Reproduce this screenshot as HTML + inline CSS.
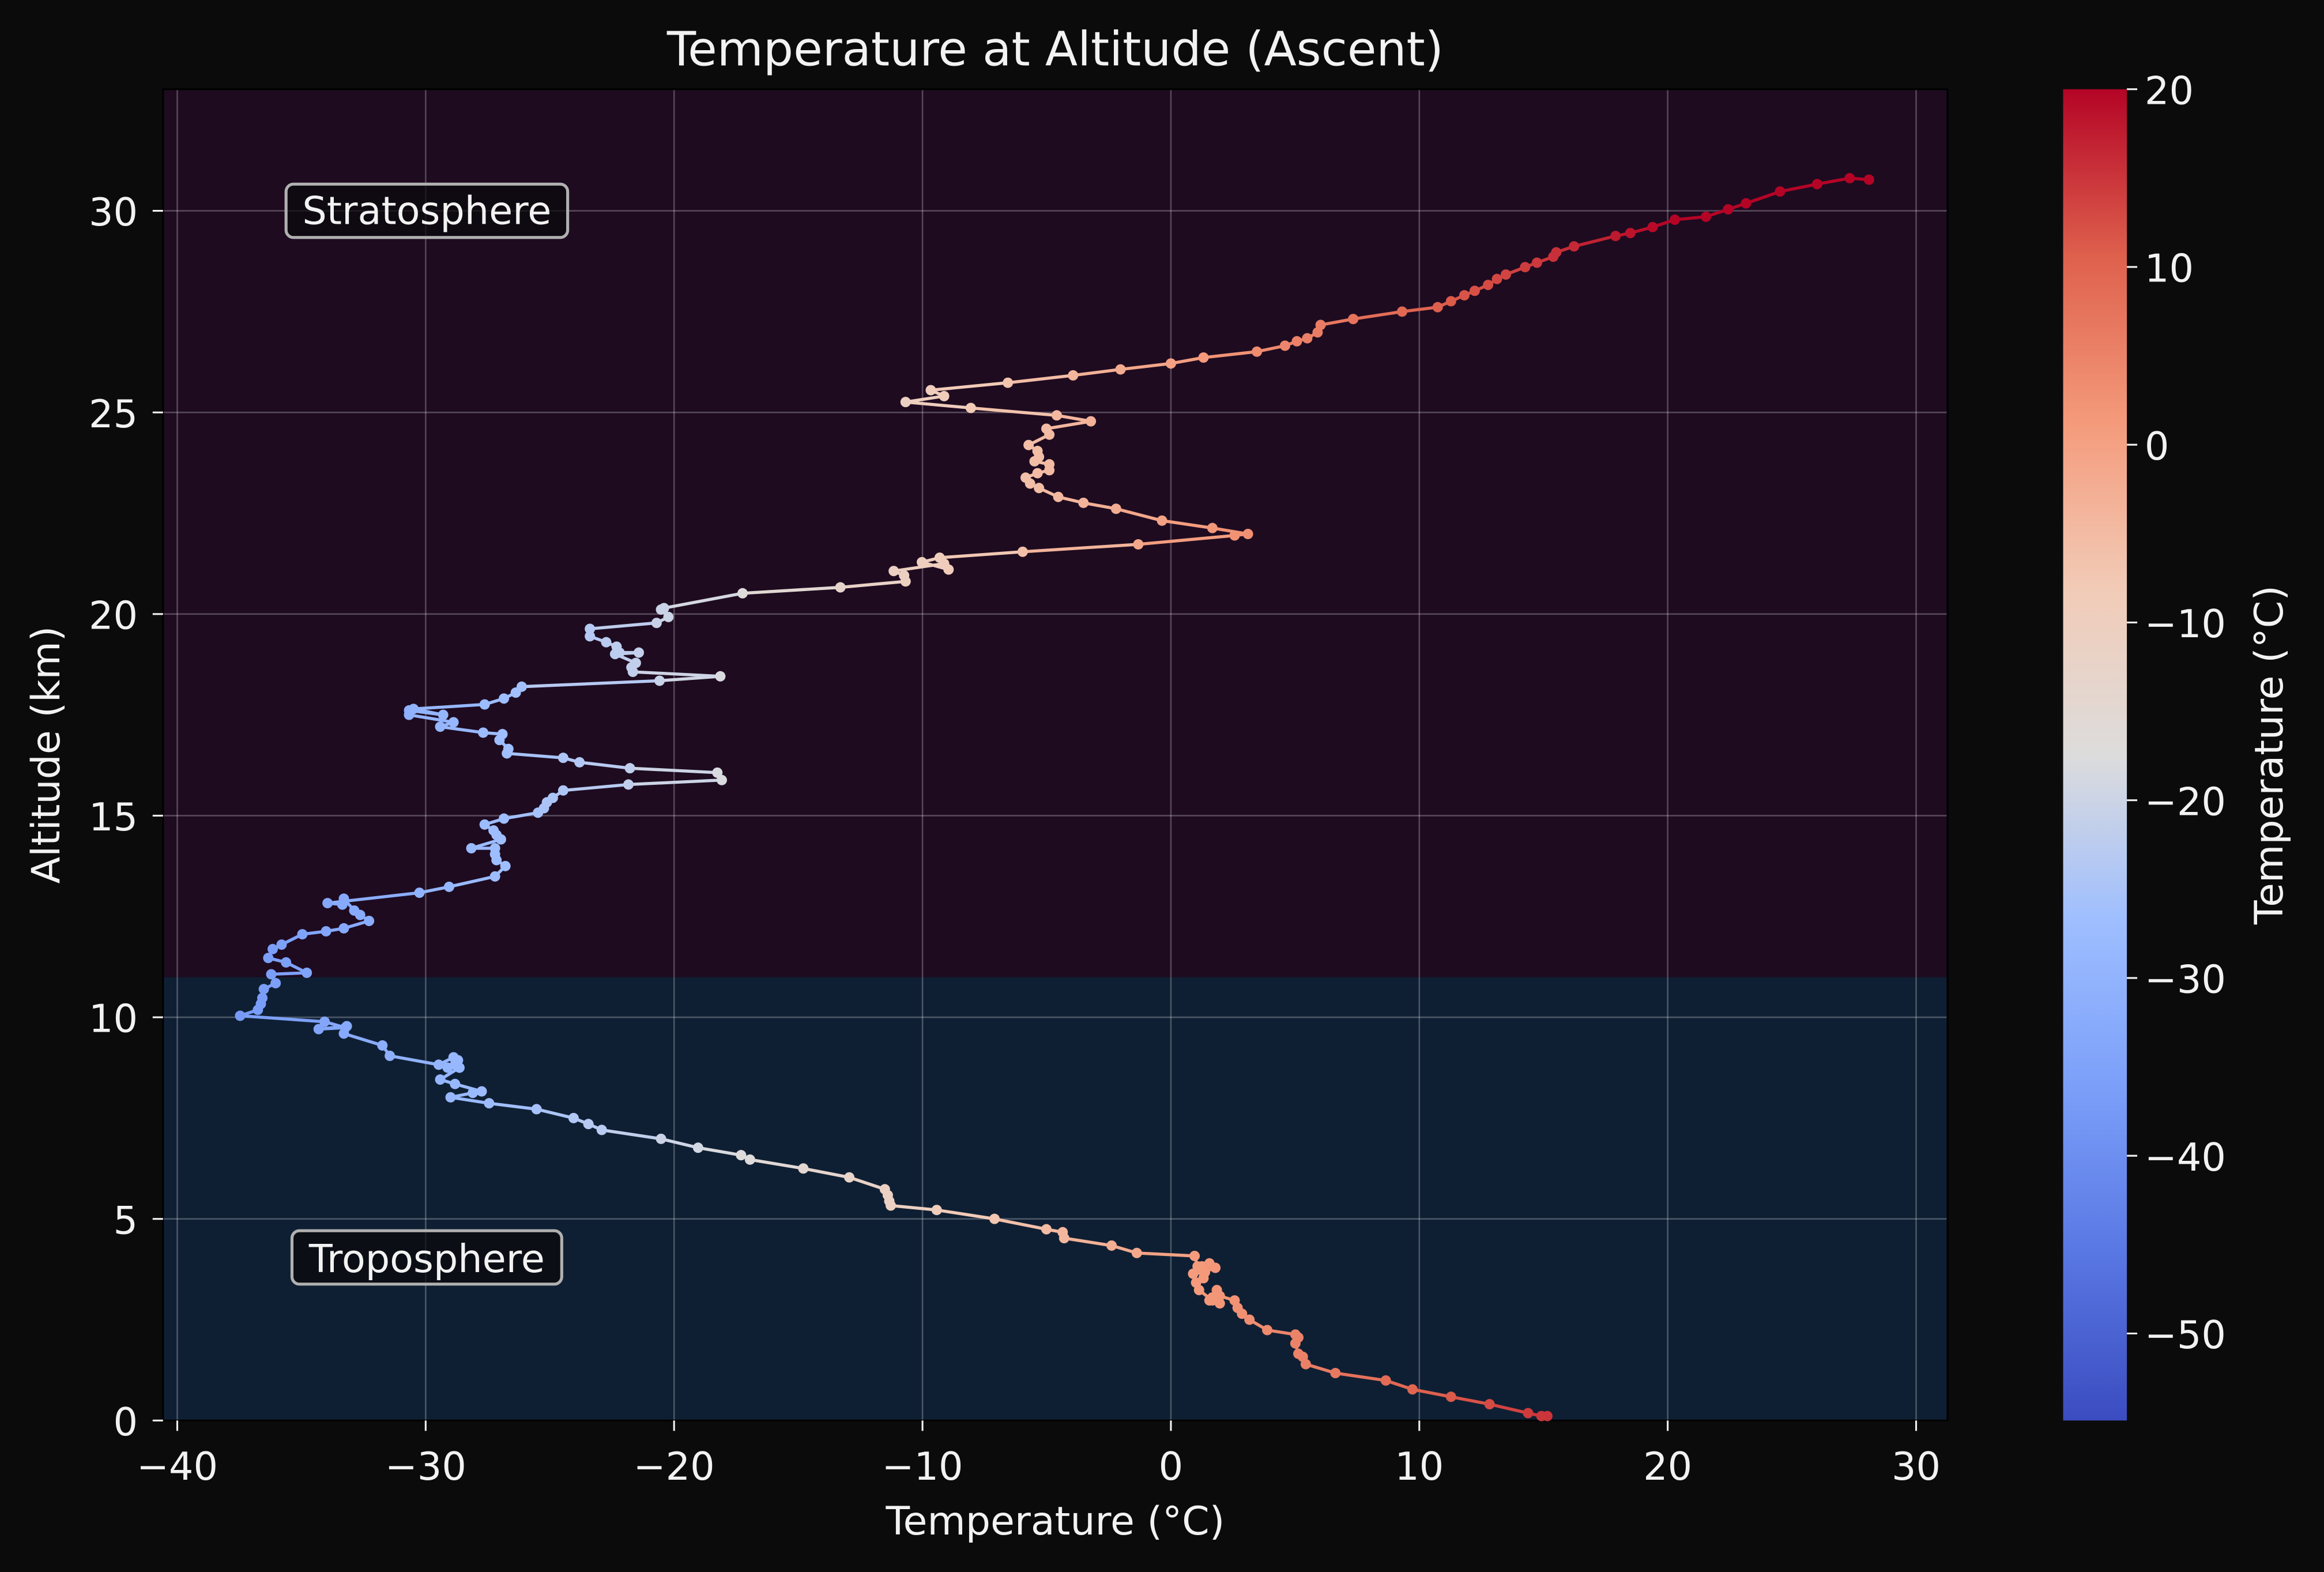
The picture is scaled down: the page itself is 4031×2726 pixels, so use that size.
<!DOCTYPE html>
<html><head><meta charset="utf-8"><style>
html,body{margin:0;padding:0;background:#0b0b0c;}
svg{display:block;}
text{font-family:"DejaVu Sans","Liberation Sans",sans-serif;fill:#f2f2f2;}
</style></head><body>
<svg id="s" width="4031" height="2726" viewBox="0 0 1568 1060" xmlns="http://www.w3.org/2000/svg">
<defs>
<linearGradient id="cb" x1="0" y1="1" x2="0" y2="0">
<stop offset="0" stop-color="#3b4cc0"/>
<stop offset="0.125" stop-color="#5977e3"/>
<stop offset="0.25" stop-color="#7b9ff9"/>
<stop offset="0.375" stop-color="#9ebeff"/>
<stop offset="0.5" stop-color="#dddcdc"/>
<stop offset="0.625" stop-color="#f2cbb7"/>
<stop offset="0.75" stop-color="#f49a7b"/>
<stop offset="0.875" stop-color="#de604d"/>
<stop offset="1" stop-color="#b40426"/>
</linearGradient>
</defs>
<rect x="0" y="0" width="1568" height="1060" fill="#0b0b0c"/>
<rect x="110" y="60" width="1204" height="599" fill="#1e0b20"/>
<rect x="110" y="659" width="1204" height="299" fill="#0f1f33"/>
<g id="grid" stroke="#ffffff" stroke-opacity="0.25" stroke-width="1"></g>
<rect x="110" y="60" width="1204" height="898" fill="none" stroke="#000" stroke-width="1.2"/>
<g id="ticks"></g>
<g id="series"></g>
<rect x="193" y="124" width="190" height="36" rx="5" fill="#0b0b0c" fill-opacity="0.75" stroke="#b0b0b0" stroke-width="2"/>
<text x="288" y="151" font-size="26" text-anchor="middle">Stratosphere</text>
<rect x="197" y="830" width="182" height="36" rx="5" fill="#0b0b0c" fill-opacity="0.75" stroke="#b0b0b0" stroke-width="2"/>
<text x="288" y="858" font-size="26" text-anchor="middle">Troposphere</text>
<text x="712" y="44" font-size="32" text-anchor="middle">Temperature at Altitude (Ascent)</text>
<text x="712" y="1035" font-size="26.5" text-anchor="middle">Temperature (°C)</text>
<text x="40" y="509" font-size="26.5" text-anchor="middle" transform="rotate(-90 40 509)">Altitude (km)</text>
<rect x="1392" y="60" width="43" height="898" fill="url(#cb)"/>
<text x="1540" y="509" font-size="26.5" text-anchor="middle" transform="rotate(-90 1540 509)">Temperature (°C)</text>
</svg>
<script>
var NS="http://www.w3.org/2000/svg";
function el(t,a,p){var e=document.createElementNS(NS,t);for(var k in a)e.setAttribute(k,a[k]);if(p)p.appendChild(e);return e;}
var grid=document.getElementById('grid'),ticks=document.getElementById('ticks'),ser=document.getElementById('series');
for(var v=-40;v<=30;v+=10){var x=790+v*16.76;
 el('line',{x1:x,y1:60,x2:x,y2:958},grid);
 el('line',{x1:x,y1:958,x2:x,y2:965,stroke:'#f2f2f2','stroke-width':1.2},ticks);
 var t=el('text',{x:x,y:998,'font-size':26,'text-anchor':'middle'},ticks);t.textContent=(v<0?'\u2212'+(-v):v);}
for(var v=0;v<=30;v+=5){var y=958-v*27.2;
 el('line',{x1:110,y1:y,x2:1314,y2:y},grid);
 el('line',{x1:103,y1:y,x2:110,y2:y,stroke:'#f2f2f2','stroke-width':1.2},ticks);
 var t=el('text',{x:93,y:y+10,'font-size':26,'text-anchor':'end'},ticks);t.textContent=v;}
for(var v=-50;v<=20;v+=10){var y=60+(20-v)*11.99;
 el('line',{x1:1435,y1:y,x2:1442,y2:y,stroke:'#f2f2f2','stroke-width':1.2},ticks);
 var t=el('text',{x:1447,y:y+10,'font-size':26},ticks);t.textContent=(v<0?'\u2212'+(-v):v);}
var P=[[1044,955],[1040,955],[1031,953],[1005,947],[979,942],[953,937],[935,931],[901,926],[881,920],[879,915],[876,913],[874,906],[876,902],[874,900],[855,897],[843,890],[838,886],[835,882],[833,877],[823,874],[821,870],[818,875],[816,877],[823,879],[818,877],[809,870],[807,865],[812,862],[813,858],[811,854],[816,852],[820,855],[812,858],[805,859],[808,854],[806,847],[767,845],[750,840],[718,835],[717,831],[706,829],[671,822],[632,816],[601,813],[600,810],[599,806],[597,802],[573,794],[542,788],[506,782],[500,779],[471,774],[446,768],[406,762],[397,758],[387,754],[362,748],[330,744],[304,740],[319,737],[325,736],[307,731],[297,728],[310,720],[302,720],[307,718],[309,715],[306,713],[296,718],[263,712],[258,705],[232,697],[234,692],[215,694],[233,693],[219,689],[162,685],[174,681],[176,677],[177,673],[178,667],[186,663],[183,657],[207,656],[193,649],[181,646],[184,640],[190,637],[204,630],[220,628],[232,626],[249,621],[243,617],[239,614],[232,606],[231,610],[221,609],[283,602],[303,598],[334,591],[341,584],[335,580],[334,576],[334,572],[318,572],[338,566],[335,563],[333,560],[327,556],[340,552],[363,548],[367,545],[369,541],[373,538],[380,533],[424,529],[487,526],[484,521],[425,518],[391,514],[380,511],[342,508],[343,505],[337,499],[339,495],[326,494],[297,490],[306,487],[276,482],[276,479],[299,482],[279,478],[327,475],[340,471],[348,467],[352,463],[445,459],[486,456],[427,453],[426,450],[429,447],[415,441],[431,440],[418,440],[416,436],[409,433],[398,429],[398,424],[443,420],[451,416],[446,411],[448,410],[501,400],[567,396],[611,392],[610,388],[603,385],[637,380],[640,384],[622,379],[634,376],[690,372],[768,367],[833,361],[842,360],[818,356],[784,351],[753,343],[731,339],[714,335],[701,329],[695,326],[692,322],[700,319],[708,317],[708,313],[698,311],[701,308],[700,304],[694,300],[708,293],[706,289],[736,284],[713,280],[655,275],[611,271],[637,267],[628,263],[680,258],[724,253],[756,249],[790,245],[812,241],[848,237],[867,233],[875,230],[882,228],[889,224],[891,219],[913,215],[946,210],[970,207],[979,203],[988,199],[995,196],[1004,192],[1010,188],[1016,185],[1029,180],[1037,177],[1048,173],[1050,170],[1062,166],[1090,159],[1100,157],[1115,153],[1130,148],[1151,146],[1166,141],[1178,137],[1201,129],[1226,124],[1248,120],[1261,121]];
var S=[[0,59,76,192],[0.125,89,119,227],[0.25,123,159,249],[0.375,158,190,255],[0.5,221,220,220],[0.625,242,203,183],[0.75,244,154,123],[0.875,222,96,77],[1,180,4,38]];
function col(x){var T=(x-790)/16.76;var f=(T+55)/75;f=Math.max(0,Math.min(1,f));
 for(var i=1;i<S.length;i++){if(f<=S[i][0]){var a=S[i-1],b=S[i],u=(f-a[0])/(b[0]-a[0]);
  return 'rgb('+Math.round(a[1]+u*(b[1]-a[1]))+','+Math.round(a[2]+u*(b[2]-a[2]))+','+Math.round(a[3]+u*(b[3]-a[3]))+')';}}return 'rgb(180,4,38)';}
for(var i=0;i<P.length-1;i++){var a=P[i],b=P[i+1];
 el('line',{x1:a[0],y1:a[1],x2:b[0],y2:b[1],stroke:col((a[0]+b[0])/2),'stroke-width':2.1},ser);}
for(var i=0;i<P.length;i++){el('circle',{cx:P[i][0],cy:P[i][1],r:3.5,fill:col(P[i][0])},ser);}
</script>
</body></html>
